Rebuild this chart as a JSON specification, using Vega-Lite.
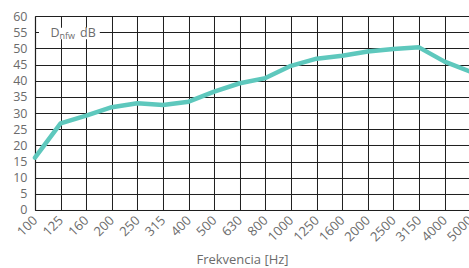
{
  "$schema": "https://vega.github.io/schema/vega-lite/v6.json",
  "autosize": "none",
  "padding": {"left": 35, "top": 16, "right": 0, "bottom": 58},
  "width": 435.2,
  "height": 194,
  "background": "white",
  "config": {
    "view": {"stroke": null},
    "font": "Open Sans",
    "axis": {
      "labelColor": "#6b6b6b",
      "titleColor": "#6b6b6b",
      "labelFont": "Open Sans",
      "titleFont": "Open Sans",
      "gridColor": "#1e1e1e",
      "gridOpacity": 1,
      "gridWidth": 1,
      "domainColor": "#1e1e1e",
      "domainWidth": 1.2,
      "ticks": false
    }
  },
  "layer": [
    {
      "data": {
        "values": [
          {"f": "100", "v": 16.2},
          {"f": "125", "v": 26.8},
          {"f": "160", "v": 29.2},
          {"f": "200", "v": 31.8},
          {"f": "250", "v": 33.0},
          {"f": "315", "v": 32.5},
          {"f": "400", "v": 33.5},
          {"f": "500", "v": 36.6},
          {"f": "630", "v": 39.2},
          {"f": "800", "v": 40.8},
          {"f": "1000", "v": 44.6},
          {"f": "1250", "v": 46.8},
          {"f": "1600", "v": 47.7},
          {"f": "2000", "v": 49.0},
          {"f": "2500", "v": 49.8},
          {"f": "3150", "v": 50.3},
          {"f": "4000", "v": 45.9},
          {"f": "5000", "v": 42.8}
        ]
      },
      "mark": {"type": "line", "color": "#5ec8bd", "strokeWidth": 4.5, "strokeCap": "round", "strokeJoin": "round"},
      "encoding": {
        "x": {
          "field": "f", "type": "ordinal", "sort": null,
          "scale": {"type": "point", "padding": 0},
          "axis": {
            "grid": true, "labelAngle": -45, "labelAlign": "right", "labelBaseline": "middle",
            "labelFontSize": 13, "labelPadding": 8,
            "title": "Frekvencia [Hz]", "titleFontSize": 13, "titleFontWeight": "normal",
            "titleX": 207, "titleY": 50, "titleBaseline": "middle", "titleAlign": "center"
          }
        },
        "y": {
          "field": "v", "type": "quantitative",
          "scale": {"domain": [0, 60], "nice": false},
          "axis": {
            "grid": true, "values": [0,5,10,15,20,25,30,35,40,45,50,55,60],
            "labelFontSize": 12.5, "labelPadding": 8, "title": null
          }
        }
      }
    },
    {
      "data": {"values": [{}]},
      "mark": {"type": "rect", "color": "white", "xOffset": 4, "x2Offset": -12},
      "encoding": {
        "x": {"datum": "100", "type": "ordinal"},
        "x2": {"datum": "200"},
        "y": {"datum": 56.4, "type": "quantitative",
          "axis": {"grid": true, "values": [0,5,10,15,20,25,30,35,40,45,50,55,60], "labelFontSize": 12.5, "labelPadding": 8, "title": null}},
        "y2": {"datum": 52.8}
      }
    },
    {
      "data": {"values": [{}]},
      "mark": {"type": "text", "text": "D", "align": "left", "baseline": "middle", "dx": 15.5, "dy": 0.5, "fontSize": 12.5, "color": "#6b6b6b"},
      "encoding": {
        "x": {"datum": "100", "type": "ordinal"},
        "y": {"datum": 55, "type": "quantitative",
          "axis": {"grid": true, "values": [0,5,10,15,20,25,30,35,40,45,50,55,60], "labelFontSize": 12.5, "labelPadding": 8, "title": null}}
      }
    },
    {
      "data": {"values": [{}]},
      "mark": {"type": "text", "text": "nfw", "align": "left", "baseline": "middle", "dx": 24.5, "dy": 3.5, "fontSize": 9, "color": "#6b6b6b"},
      "encoding": {
        "x": {"datum": "100", "type": "ordinal"},
        "y": {"datum": 55, "type": "quantitative",
          "axis": {"grid": true, "values": [0,5,10,15,20,25,30,35,40,45,50,55,60], "labelFontSize": 12.5, "labelPadding": 8, "title": null}}
      }
    },
    {
      "data": {"values": [{}]},
      "mark": {"type": "text", "text": "dB", "align": "left", "baseline": "middle", "dx": 45, "dy": 0.5, "fontSize": 12.5, "color": "#6b6b6b"},
      "encoding": {
        "x": {"datum": "100", "type": "ordinal"},
        "y": {"datum": 55, "type": "quantitative",
          "axis": {"grid": true, "values": [0,5,10,15,20,25,30,35,40,45,50,55,60], "labelFontSize": 12.5, "labelPadding": 8, "title": null}}
      }
    }
  ]
}
